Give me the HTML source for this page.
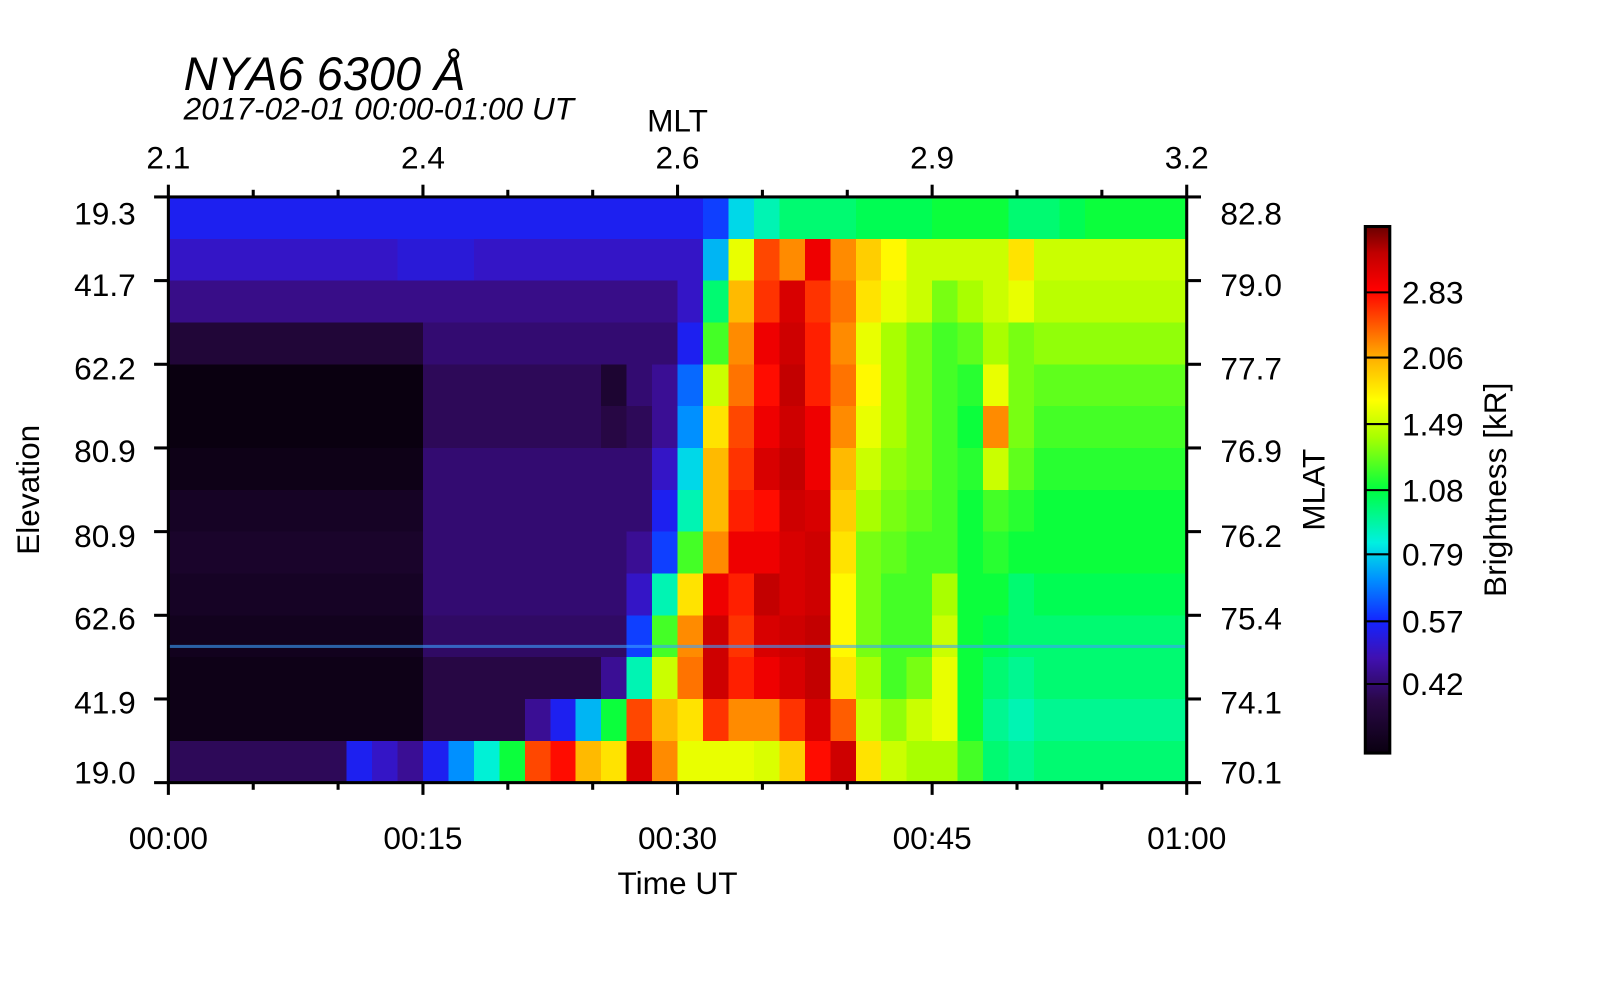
<!DOCTYPE html>
<html><head><meta charset="utf-8"><style>
body{margin:0;background:#fff;}
svg{display:block;font-family:"Liberation Sans",sans-serif;}
</style></head><body>
<svg id="chart" width="1600" height="1000">
<g transform="scale(1.0204)">
<text x="180" y="88" font-size="46" font-style="italic">NYA6 6300 Å</text>
<text x="180" y="117" font-size="31" font-style="italic">2017-02-01 00:00-01:00 UT</text>
<g id="heat"></g>
<g id="axes"></g>
<text x="664" y="129" font-size="31" text-anchor="middle">MLT</text>
<text x="664" y="876" font-size="31" text-anchor="middle">Time UT</text>
<text transform="translate(38,480) rotate(-90)" font-size="31" text-anchor="middle">Elevation</text>
<text transform="translate(1298,480) rotate(-90)" font-size="31" text-anchor="middle">MLAT</text>
<text transform="translate(1476,480) rotate(-90)" font-size="31" text-anchor="middle">Brightness [kR]</text>
<g id="cbar"></g>
</g>
</svg>
<script>
const timeLabels=["00:00","00:15","00:30","00:45","01:00"];
const mltLabels=["2.1","2.4","2.6","2.9","3.2"];
const elevLabels=["19.3","41.7","62.2","80.9","80.9","62.6","41.9","19.0"];
const mlatLabels=["82.8","79.0","77.7","76.9","76.2","75.4","74.1","70.1"];
const cbarTicks=[0.42,0.57,0.79,1.08,1.49,2.06,2.83];
const vMin=0.3, vMax=3.9;
const row0=[0.55,0.55,0.55,0.55,0.55,0.55,0.55,0.55,0.55,0.55,0.55,0.55,0.55,0.55,0.55,0.55,0.55,0.55,0.55,0.55,0.55,0.6,0.8,0.9,1.0,1.0,1.0,1.05,1.05,1.05,1.1,1.1,1.1,1.0,1.0,1.05,1.1,1.1,1.1,1.1];
const row1=[0.5,0.5,0.5,0.5,0.5,0.5,0.5,0.5,0.5,0.52,0.52,0.52,0.5,0.5,0.5,0.5,0.5,0.5,0.5,0.5,0.5,0.75,1.6,2.5,2.2,3.0,2.2,1.9,1.7,1.5,1.5,1.5,1.5,1.8,1.5,1.5,1.5,1.5,1.5,1.5];
const row2=[0.44,0.44,0.44,0.44,0.44,0.44,0.44,0.44,0.44,0.44,0.44,0.44,0.44,0.44,0.44,0.44,0.44,0.44,0.44,0.44,0.5,1.0,2.0,2.6,3.2,2.6,2.3,1.8,1.6,1.5,1.3,1.4,1.5,1.6,1.45,1.45,1.45,1.45,1.45,1.45];
const row3=[0.36,0.36,0.36,0.36,0.36,0.36,0.36,0.36,0.36,0.36,0.42,0.42,0.42,0.42,0.42,0.42,0.42,0.42,0.42,0.42,0.55,1.2,2.2,3.0,3.3,2.7,2.2,1.6,1.4,1.3,1.2,1.25,1.4,1.3,1.35,1.35,1.35,1.35,1.35,1.35];
const row4=[0.3,0.3,0.3,0.3,0.3,0.3,0.3,0.3,0.3,0.3,0.4,0.4,0.4,0.4,0.4,0.4,0.4,0.35,0.42,0.45,0.65,1.5,2.3,2.8,3.4,2.7,2.3,1.7,1.4,1.3,1.2,1.15,1.6,1.3,1.25,1.25,1.25,1.25,1.25,1.25];
const row5=[0.3,0.3,0.3,0.3,0.3,0.3,0.3,0.3,0.3,0.3,0.4,0.4,0.4,0.4,0.4,0.4,0.4,0.38,0.4,0.45,0.7,1.8,2.5,3.0,3.3,3.0,2.2,1.6,1.4,1.3,1.2,1.1,2.2,1.3,1.2,1.2,1.2,1.2,1.2,1.2];
const row6=[0.31,0.31,0.31,0.31,0.31,0.31,0.31,0.31,0.31,0.31,0.42,0.42,0.42,0.42,0.42,0.42,0.42,0.42,0.42,0.5,0.8,2.0,2.6,3.2,3.4,3.0,2.0,1.5,1.35,1.3,1.2,1.15,1.5,1.25,1.15,1.15,1.15,1.15,1.15,1.15];
const row7=[0.33,0.33,0.33,0.33,0.33,0.33,0.33,0.33,0.33,0.33,0.42,0.42,0.42,0.42,0.42,0.42,0.42,0.42,0.42,0.55,0.9,2.0,2.7,2.8,3.3,3.2,1.9,1.4,1.3,1.25,1.2,1.1,1.2,1.15,1.1,1.1,1.1,1.1,1.1,1.1];
const row8=[0.34,0.34,0.34,0.34,0.34,0.34,0.34,0.34,0.34,0.34,0.42,0.42,0.42,0.42,0.42,0.42,0.42,0.42,0.45,0.6,1.2,2.2,3.0,3.0,3.2,3.3,1.8,1.3,1.25,1.2,1.2,1.1,1.15,1.1,1.1,1.1,1.1,1.1,1.1,1.1];
const row9=[0.33,0.33,0.33,0.33,0.33,0.33,0.33,0.33,0.33,0.33,0.42,0.42,0.42,0.42,0.42,0.42,0.42,0.42,0.5,0.9,1.8,3.0,2.7,3.4,3.2,3.3,1.7,1.3,1.2,1.2,1.4,1.1,1.1,1.0,1.05,1.05,1.05,1.05,1.05,1.05];
const row10=[0.32,0.32,0.32,0.32,0.32,0.32,0.32,0.32,0.32,0.32,0.41,0.41,0.41,0.41,0.41,0.41,0.41,0.41,0.6,1.2,2.2,3.3,2.6,3.2,3.3,3.4,1.7,1.3,1.2,1.2,1.5,1.1,1.05,1.0,1.0,1.0,1.0,1.0,1.0,1.0];
const row11=[0.31,0.31,0.31,0.31,0.31,0.31,0.31,0.31,0.31,0.31,0.38,0.38,0.38,0.38,0.38,0.38,0.38,0.45,0.9,1.5,2.3,3.3,2.7,3.0,3.2,3.4,1.8,1.4,1.2,1.3,1.6,1.1,1.0,0.95,1.0,1.0,1.0,1.0,1.0,1.0];
const row12=[0.31,0.31,0.31,0.31,0.31,0.31,0.31,0.31,0.31,0.31,0.38,0.38,0.38,0.38,0.45,0.55,0.75,1.1,2.5,2.0,1.8,2.6,2.2,2.2,2.6,3.2,2.4,1.5,1.35,1.5,1.6,1.1,0.95,0.9,0.95,0.95,0.95,0.95,0.95,0.95];
const row13=[0.4,0.4,0.4,0.4,0.4,0.4,0.4,0.55,0.5,0.45,0.55,0.7,0.85,1.1,2.5,2.8,2.0,1.8,3.2,2.2,1.6,1.6,1.6,1.55,1.9,2.8,3.3,1.8,1.5,1.4,1.4,1.2,1.0,0.95,1.0,1.0,1.0,1.0,1.0,1.0];
const grid=[row0,row1,row2,row3,row4,row5,row6,row7,row8,row9,row10,row11,row12,row13];

const X0=165,X1=1163,Y0=193,Y1=767;
const NS="http://www.w3.org/2000/svg";
const stops=[[0,"#0a0010"],[0.1,"#2a0848"],[0.18,"#4010b0"],[0.25,"#1424ff"],[0.33,"#0090ff"],[0.4,"#00f0e0"],[0.5,"#00ff40"],[0.6,"#a8ff00"],[0.67,"#ffff00"],[0.75,"#ffb000"],[0.82,"#ff5000"],[0.88,"#ff0000"],[0.95,"#c00000"],[1,"#6a0000"]];
function hex(h){return [1,3,5].map(i=>parseInt(h.substr(i,2),16));}
function norm(v){let s=(Math.log(v)-Math.log(vMin))/(Math.log(vMax)-Math.log(vMin));return Math.max(0,Math.min(1,s));}
function color(v){const s=norm(v);for(let i=1;i<stops.length;i++){if(s<=stops[i][0]){const a=stops[i-1],b=stops[i];const f=(s-a[0])/(b[0]-a[0]);const ca=hex(a[1]),cb=hex(b[1]);return "rgb("+ca.map((c,k)=>Math.round(c+(cb[k]-c)*f)).join(",")+")";}}return stops[stops.length-1][1];}
function el(t,attrs,parent){const e=document.createElementNS(NS,t);for(const k in attrs)e.setAttribute(k,attrs[k]);parent.appendChild(e);return e;}
const nCols=row0.length,nRows=grid.length;
const xScale=i=>X0+(X1-X0)*i/nCols;
const yScale=j=>Y0+(Y1-Y0)*j/nRows;
const heat=document.getElementById('heat');
grid.forEach((row,j)=>row.forEach((v,i)=>{
  const r=el('rect',{x:xScale(i),y:yScale(j),width:(X1-X0)/nCols+0.6,height:(Y1-Y0)/nRows+0.6,fill:color(v),'shape-rendering':'crispEdges'},heat);
  
  
}));
const ln=el('rect',{x:X0,y:632,width:X1-X0,height:3,fill:'#3aa0ff',opacity:0.6},heat);



const ax=document.getElementById('axes');
el('rect',{x:X0,y:Y0,width:X1-X0,height:Y1-Y0,fill:'none',stroke:'#000','stroke-width':3},ax);
for(let k=0;k<=12;k++){const x=X0+(X1-X0)*k/12;const L=k%3==0?12:7;
  el('line',{x1:x,y1:Y1,x2:x,y2:Y1+L,stroke:'#000','stroke-width':3},ax);
  el('line',{x1:x,y1:Y0,x2:x,y2:Y0-L,stroke:'#000','stroke-width':3},ax);}
timeLabels.forEach((t,i)=>{const x=X0+(X1-X0)*i/(timeLabels.length-1);
  const e=el('text',{x:x,y:832,'font-size':31,'text-anchor':'middle'},ax);e.textContent=t;
  
  });
mltLabels.forEach((t,i)=>{const x=X0+(X1-X0)*i/(mltLabels.length-1);
  const e=el('text',{x:x,y:165,'font-size':31,'text-anchor':'middle'},ax);e.textContent=t;
  
  });
const ly=[209,279,361,442,525,606,688,757];
elevLabels.forEach((t,i)=>{const y=Y0+(Y1-Y0)*i/(elevLabels.length-1);
  el('line',{x1:X0,y1:y,x2:X0-14,y2:y,stroke:'#000','stroke-width':3},ax);
  el('line',{x1:X1,y1:y,x2:X1+14,y2:y,stroke:'#000','stroke-width':3},ax);
  const e=el('text',{x:133,y:ly[i]+11,'font-size':31,'text-anchor':'end'},ax);e.textContent=t;
  
  
  const m=el('text',{x:1196,y:ly[i]+11,'font-size':31},ax);m.textContent=mlatLabels[i];
  
  });

const cb=document.getElementById('cbar');
const CB0=222,CB1=738,CX=1338,CW=24;
const defs=el('defs',{},cb);const g=el('linearGradient',{id:'cg',x1:0,y1:1,x2:0,y2:0},defs);
stops.forEach(s=>el('stop',{offset:s[0],'stop-color':s[1]},g));
el('rect',{x:CX,y:CB0,width:CW,height:CB1-CB0,fill:'url(#cg)',stroke:'#000','stroke-width':3},cb);
cbarTicks.forEach(v=>{const y=CB1-(CB1-CB0)*norm(v);
  el('line',{x1:CX,y1:y,x2:CX+CW,y2:y,stroke:'#000','stroke-width':2},cb);
  const e=el('text',{x:1374,y:y+11,'font-size':31},cb);e.textContent=v.toFixed(2);
  
  });
</script>
</body></html>
